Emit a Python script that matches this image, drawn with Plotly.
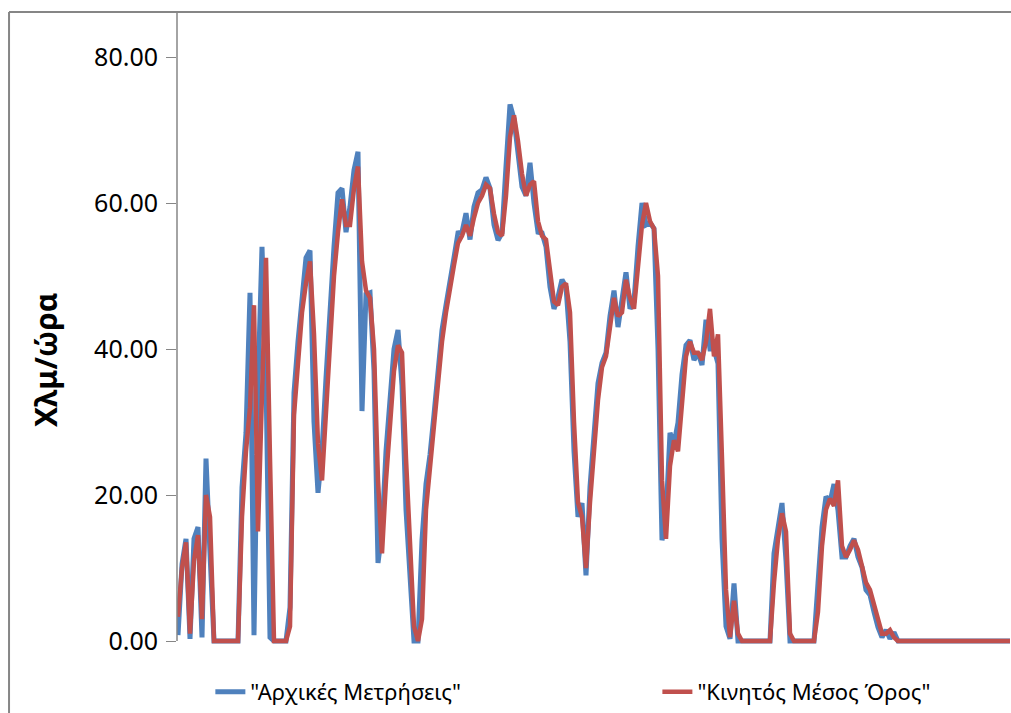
import plotly.graph_objects as go

# time index (one step ~ one sample)
arxikes = [
    0.8, 10.5, 14.0, 0.3, 14.0, 15.6, 0.5, 25.0, 12.0, 0.0,
    0.0, 0.0, 0.0, 0.0, 0.0, 0.0, 21.0, 28.5, 47.7, 0.8,
    35.0, 54.0, 36.0, 0.5, 0.0, 0.0, 0.0, 0.0, 4.6, 34.0,
    41.0, 47.7, 52.5, 53.5, 30.0, 20.3, 26.0, 36.0, 46.0, 54.0,
    61.4, 62.0, 56.0, 59.5, 64.5, 67.0, 31.5, 47.5, 47.7, 37.0,
    10.7, 15.0, 26.0, 33.5, 40.0, 42.6, 35.0, 18.0, 9.3, 0.0,
    0.0, 13.8, 21.5, 25.5, 31.0, 36.7, 42.6, 46.0, 49.8, 52.5,
    55.9, 56.0, 58.6, 55.0, 59.5, 61.4, 61.8, 63.5, 62.0, 57.0,
    54.9, 55.9, 65.0, 73.5, 71.5, 66.3, 62.2, 61.0, 65.5, 60.0,
    56.0, 55.9, 54.0, 48.5, 45.5, 47.1, 49.5, 48.5, 41.0, 26.0,
    17.0, 18.9, 9.0, 21.1, 27.5, 35.3, 38.1, 39.5, 44.5, 48.0,
    43.0, 46.3, 50.5, 45.5, 46.5, 54.0, 60.0, 57.0, 57.3, 56.5,
    40.0, 13.8, 17.0, 28.5, 27.0, 29.9, 36.5, 40.5, 41.2, 38.5,
    39.5, 37.8, 44.0, 40.0, 40.0, 38.0, 14.0, 2.0, 0.3, 7.9,
    0.0, 0.0, 0.0, 0.0, 0.0, 0.0, 0.0, 0.0, 0.0, 12.0,
    16.0, 18.9, 11.0, 0.0, 0.0, 0.0, 0.0, 0.0, 0.0, 0.0,
    7.9, 15.6, 19.8, 19.0, 21.5, 17.9, 11.5, 11.5, 13.0, 14.0,
    11.5, 10.1, 7.0, 6.3, 4.0, 1.9, 0.5, 1.5, 0.3, 1.2,
    0.0, 0.0, 0.0, 0.0, 0.0, 0.0, 0.0, 0.0, 0.0, 0.0,
    0.0, 0.0, 0.0, 0.0, 0.0, 0.0, 0.0, 0.0, 0.0, 0.0,
    0.0, 0.0, 0.0, 0.0, 0.0, 0.0, 0.0, 0.0, 0.0,
]

kinitos = [
    3.3, 10.0, 13.5, 1.0, 11.0, 14.5, 3.0, 20.0, 17.0, 0.0,
    0.0, 0.0, 0.0, 0.0, 0.0, 0.0, 17.0, 26.0, 32.0, 46.0,
    15.0, 35.0, 52.5, 25.0, 0.0, 0.0, 0.0, 0.0, 2.0, 31.0,
    38.0, 45.0, 49.0, 52.0, 42.0, 27.0, 22.0, 31.0, 42.0, 50.0,
    56.0, 60.5, 57.0, 57.0, 62.0, 65.0, 52.0, 48.0, 47.0, 40.0,
    22.0, 12.0, 22.0, 30.0, 37.0, 40.5, 39.5, 25.0, 12.0, 2.0,
    0.0, 3.0, 18.0, 24.0, 29.0, 35.0, 41.0, 45.0, 48.5, 51.5,
    54.5, 55.5, 57.0, 55.5, 58.0, 60.0, 61.0, 62.5, 62.0, 58.5,
    56.0, 55.5, 61.0, 69.0, 72.0, 68.5, 64.0, 61.0, 62.5, 63.0,
    57.5, 55.5, 55.0, 50.5, 46.5, 46.0, 48.5, 49.0, 45.0, 30.0,
    19.0, 17.0, 10.0, 19.0, 26.0, 33.0, 37.5, 39.0, 43.0, 47.0,
    44.5, 45.0, 49.5, 47.0, 45.5, 51.0, 57.0, 60.0, 57.5, 56.5,
    50.0, 22.0, 14.0, 24.0, 27.5, 26.0, 33.0, 39.0, 41.0, 39.5,
    39.5, 38.5, 41.0, 45.5, 39.0, 42.0, 25.0, 7.0, 0.5, 5.5,
    1.0, 0.0, 0.0, 0.0, 0.0, 0.0, 0.0, 0.0, 0.0, 8.0,
    14.0, 17.5, 15.0, 1.0, 0.0, 0.0, 0.0, 0.0, 0.0, 0.0,
    4.0, 13.0, 18.0, 19.5, 18.5, 22.0, 13.0, 11.5, 12.5, 13.8,
    12.5, 10.0, 8.0, 7.0, 5.0, 2.5, 1.0, 1.0, 1.5, 0.5,
    0.0, 0.0, 0.0, 0.0, 0.0, 0.0, 0.0, 0.0, 0.0, 0.0,
    0.0, 0.0, 0.0, 0.0, 0.0, 0.0, 0.0, 0.0, 0.0, 0.0,
    0.0, 0.0, 0.0, 0.0, 0.0, 0.0, 0.0, 0.0, 0.0,
]

time_index = list(range(len(arxikes)))

y_ticks = [0, 20, 40, 60, 80]
y_title = "Χλμ/ώρα"
name_raw = '"Αρχικές Μετρήσεις"'
name_ma = '"Κινητός Μέσος Όρος"'

FONT = "Noto Sans"
GRAY = "#868686"

fig = go.Figure()
fig.add_trace(go.Scatter(x=time_index, y=arxikes, mode="lines", name=name_raw,
                         legend="legend",
                         line=dict(color="#4F81BD", width=5)))
fig.add_trace(go.Scatter(x=time_index, y=kinitos, mode="lines", name=name_ma,
                         legend="legend2",
                         line=dict(color="#C0504D", width=4.5)))

ymax = 86.164
ymin = -0.548

legend_common = dict(orientation="h", xanchor="left", y=-0.0743, yanchor="middle",
                     font=dict(family=FONT, size=22, color="black"),
                     bgcolor="rgba(0,0,0,0)", borderwidth=0)

fig.update_layout(
    width=1011, height=713,
    margin=dict(l=177, r=0, t=12, b=68, pad=0, autoexpand=False),
    paper_bgcolor="white", plot_bgcolor="white",
    font=dict(family=FONT, size=22, color="black"),
    showlegend=True,
    legend=dict(x=0.040, **legend_common),
    legend2=dict(x=0.576, **legend_common),
    xaxis=dict(range=[-0.25, 208.25], showline=False, showgrid=False, zeroline=False,
               showticklabels=False, ticks=""),
    yaxis=dict(range=[ymin, ymax], tickvals=y_ticks, tickformat=".2f",
               showline=False, showgrid=False, zeroline=False,
               ticks="outside", ticklen=10, tickcolor=GRAY, tickwidth=1,
               ticklabelstandoff=3, automargin=False,
               tickfont=dict(family=FONT, size=25, color="black")),
)

# y axis line from 0 up to top
fig.add_shape(type="line", xref="paper", yref="y", x0=0, x1=0, y0=0, y1=ymax,
              line=dict(color=GRAY, width=1.5), layer="above")
# outer chart frame (left & top edges visible)
fig.add_shape(type="line", xref="paper", yref="paper", x0=-0.2014, x1=-0.2014, y0=1, y1=-0.2,
              line=dict(color=GRAY, width=2), layer="above")
fig.add_shape(type="line", xref="paper", yref="paper", x0=-0.2014, x1=1.05, y0=1, y1=1,
              line=dict(color=GRAY, width=2), layer="above")

fig.add_annotation(text="<b>" + y_title + "</b>", xref="paper", yref="paper",
                   x=-0.1583, y=0.4502, xanchor="center", yanchor="middle",
                   textangle=-90, showarrow=False,
                   font=dict(family=FONT, size=30, color="black"))

fig.write_html("out.html", config={"displayModeBar": False},
               post_script="document.body.style.margin='0';document.body.style.overflow='hidden';")
